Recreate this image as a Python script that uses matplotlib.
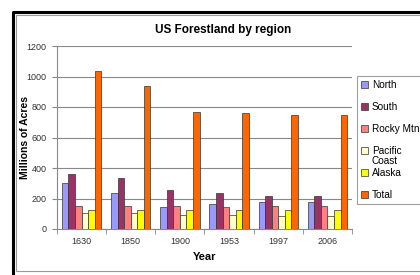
import numpy as np
import matplotlib
matplotlib.use('Agg')
import matplotlib.pyplot as plt
from matplotlib.lines import Line2D

plt.rcParams['font.family'] = ['Liberation Sans', 'DejaVu Sans']

# 数据
years = ['1630', '1850', '1900', '1953', '1997', '2006']
north = [299, 233, 143, 163, 176, 176]
south = [358, 332, 253, 233, 215, 215]
rocky = [154, 149, 149, 147, 152, 152]
pacific = [108, 108, 95, 95, 88, 88]
alaska = [127, 127, 127, 127, 127, 127]
total = [1036, 936, 765, 758, 748, 750]

series = [north, south, rocky, pacific, alaska, total]
labels = ['North', 'South', 'Rocky Mtn', 'Pacific', 'Alaska', 'Total']
colors = ['#9999FF', '#993366', '#FF8080', '#FFFFCC', '#FFFF00', '#FF6600']

W, H = 420, 275
fig = plt.figure(figsize=(4.2, 2.75), dpi=100)


def fline(xs, ys, **kw):
    # 用像素坐标画外框线
    fig.lines.append(Line2D([v / W for v in xs], [1 - v / H for v in ys],
                            transform=fig.transFigure, **kw))


# 外框: 左上黑色粗线, 内侧灰线
fline([12.5, 12.5, 430], [274, 11.5, 11.5], color='black', linewidth=2.2)
fline([430, 16, 16, 430], [15, 15, 271, 271], color='#999999', linewidth=0.8)

ax = fig.add_axes([57 / W, 1 - 229 / H, 295 / W, 183 / H])
x = np.arange(len(years))
bw = 0.8 / 6
for i, s in enumerate(series):
    ax.bar(x - 0.4 + bw * (i + 0.5), s, width=bw, color=colors[i], edgecolor='#333333',
           linewidth=0.5, label=labels[i], zorder=3)

ax.set_xlim(-0.5, len(years) - 0.5)
ax.set_ylim(0, 1200)
ax.set_yticks(range(0, 1201, 200))
ax.yaxis.grid(True, color='#888888', linewidth=0.8, zorder=0)
ax.set_xticks(x)
ax.set_xticklabels(years)
ax.set_xticks(np.arange(-0.5, len(years), 1), minor=True)
ax.tick_params(axis='x', which='major', length=0, pad=6)
ax.tick_params(axis='x', which='minor', length=3.5, color='#888888')
ax.tick_params(axis='y', length=3.5, color='#888888', pad=4)
ax.tick_params(labelsize=6.5, labelcolor='#333333')
for side in ['top', 'right']:
    ax.spines[side].set_visible(False)
for side in ['left', 'bottom']:
    ax.spines[side].set_color('#888888')
    ax.spines[side].set_linewidth(0.8)

ax.set_ylabel('Millions of Acres', fontsize=7.5, fontweight='bold')
ax.yaxis.set_label_coords((30 - 57) / 295, 0.5)
ax.set_xlabel('Year', fontsize=8, fontweight='bold', labelpad=4)
fig.text(223.5 / W, 1 - 30 / H, 'US Forestland by region', ha='center', va='center',
         fontsize=8.5, fontweight='bold')

leg = ax.legend(loc='upper left', bbox_to_anchor=(357 / W, 1 - 76 / H), bbox_transform=fig.transFigure,
                fontsize=7.2, frameon=True, fancybox=False, edgecolor='#888888', borderaxespad=0,
                handlelength=0.7, handleheight=0.7, handletextpad=0.4, labelspacing=1.2,
                borderpad=0.4)
leg.get_frame().set_linewidth(0.8)

# "Pacific Coast" 第二行
fig.canvas.draw()
t = leg.get_texts()[3]
bb = t.get_window_extent()
fig.text(bb.x0 / fig.bbox.width, (bb.y0 - 0.5) / fig.bbox.height, 'Coast',
         ha='left', va='top', fontsize=7.2)

fig.savefig('out.png', dpi=100)
